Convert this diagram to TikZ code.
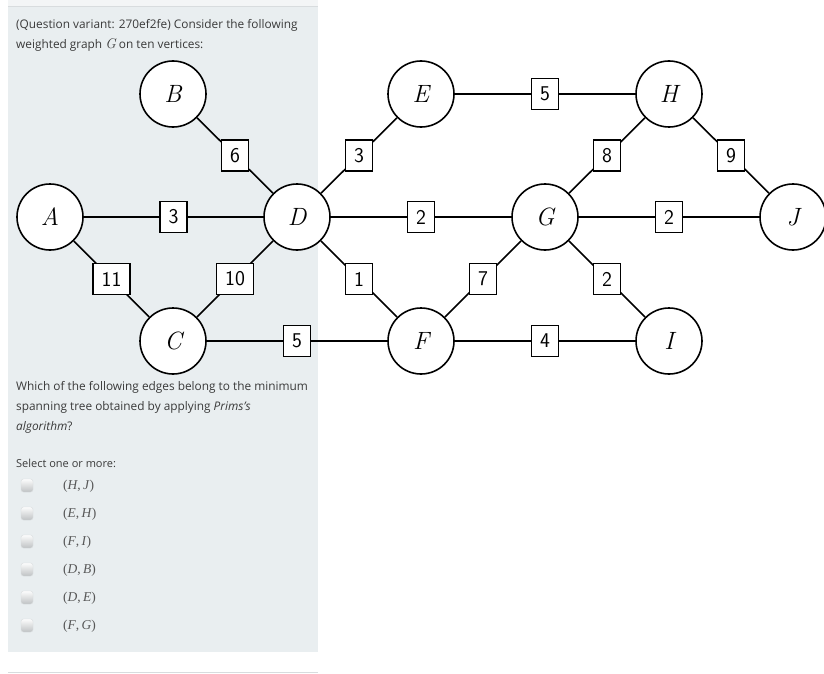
\documentclass[tikz,border=0pt]{standalone}
\usepackage{fontspec}
\setmainfont{Open Sans}
\newfontfamily\optfont{Liberation Serif}
\newfontfamily\vertfont{Latin Modern Roman}
\usetikzlibrary{positioning}
\definecolor{panelgray}{HTML}{E9EEF0}
\definecolor{stripgray}{HTML}{F3F5F6}
\definecolor{textgray}{HTML}{3A3A3A}
\definecolor{boxgray}{HTML}{D8DCDE}

\tikzset{
  vertex/.style={circle, draw, fill=white, line width=1.6pt, minimum size=66pt,
    inner sep=0pt, font=\vertfont\itshape\fontsize{25}{25}\selectfont},
  weight/.style={draw, fill=white, line width=1.4pt, minimum height=31pt,
    inner xsep=8.5pt, inner ysep=0pt, font=\fontsize{21}{21}\selectfont\sffamily},
  edge/.style={line width=1.6pt},
  qtext/.style={anchor=base west, inner sep=0pt, text=textgray,
    font=\fontsize{11.85}{14}\selectfont},
  opt/.style={anchor=base west, inner sep=0pt, text=textgray!85,
    font=\optfont\fontsize{13.5}{15}\selectfont},
  tick/.style={top color=white!92!boxgray, bottom color=boxgray!85!black!90,
    draw=boxgray, rounded corners=2.5pt, minimum width=12pt, minimum height=13pt,
    inner sep=0pt, line width=0.4pt}
}

\begin{document}
\begin{tikzpicture}[x=1pt,y=-1pt]
	\useasboundingbox (0,0) rectangle (824,674);
	%% The question panel
	\fill[stripgray] (8,0) rectangle (318,6);
	\draw[boxgray, line width=0.6pt] (8,6.5) -- (318,6.5);
	\fill[panelgray] (8,7) rectangle (318,652);
	\draw[boxgray, line width=0.8pt] (8,672) -- (318,672);
	%% Question text
	\node[qtext] (q1) at (16,29) {(Question variant: 270ef2fe) Consider the following};
	\node[qtext] (q2) at (16,49) {weighted graph {\vertfont\itshape\fontsize{14}{14}\selectfont G} on ten vertices:};
	\node[qtext] (q3) at (16,390) {Which of the following edges belong to the minimum};
	\node[qtext] (q4) at (16,410) {spanning tree obtained by applying \textit{Prims's}};
	\node[qtext] (q5) at (16,430) {\textit{algorithm}?};
	\node[qtext, font=\fontsize{11}{13}\selectfont] (sel) at (16,467) {Select one or more:};
	%% The answer options
	\foreach \y/\txt [count=\i] in {485/{(\textit{H},\,\textit{J})}, 513/{(\textit{E},\,\textit{H})},
	  541/{(\textit{F},\,\textit{I})}, 569/{(\textit{D},\,\textit{B})},
	  597/{(\textit{D},\,\textit{E})}, 625/{(\textit{F},\,\textit{G})}} {
		\node[tick] (box\i) at (27,\y+0.5) {};
		\node[opt] (opt\i) at (63,\y+4.5) {\txt};
	}
	%% The vertices
	\node[vertex] (A) at (50,217)  {A};
	\node[vertex] (B) at (173,94)  {B};
	\node[vertex] (C) at (173,341) {C};
	\node[vertex] (D) at (297,217) {D};
	\node[vertex] (E) at (421,94)  {E};
	\node[vertex] (F) at (421,341) {F};
	\node[vertex] (G) at (545,217) {G};
	\node[vertex] (H) at (669,94)  {H};
	\node[vertex] (I) at (669,341) {I};
	\node[vertex] (J) at (793,217) {J};
	%% The weighted edges
	\foreach \u/\v/\w in {A/D/3, B/D/6, A/C/11, C/D/10, D/E/3, D/G/2, D/F/1, C/F/5,
	  F/G/7, G/I/2, F/I/4, E/H/5, H/G/8, H/J/9, G/J/2} {
		\draw[edge] (\u) -- node[weight] {\w} (\v);
	}
\end{tikzpicture}
\end{document}
